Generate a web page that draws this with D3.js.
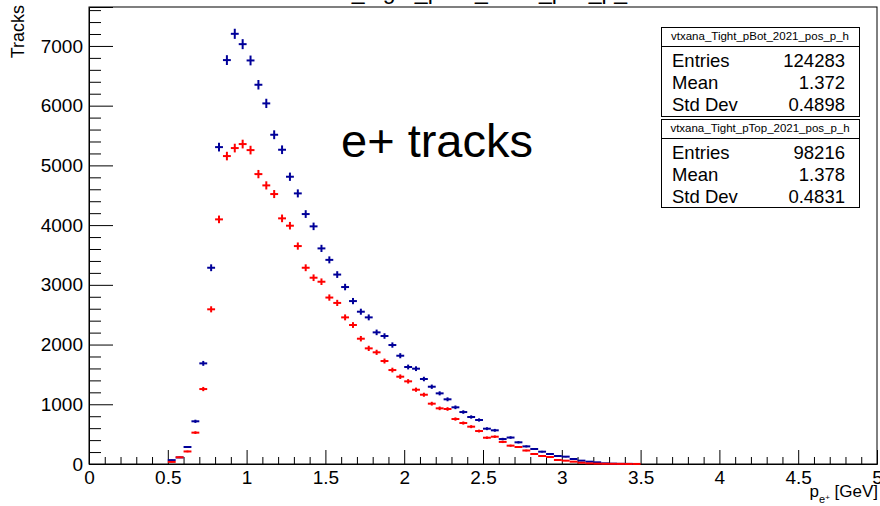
<!DOCTYPE html>
<html><head><meta charset="utf-8">
<script src="https://cdn.jsdelivr.net/npm/d3@7"></script>
<style>
body{margin:0;background:#fff;}
svg{display:block;font-family:"Liberation Sans",Arial,Helvetica,sans-serif;}
</style></head>
<body><svg id="c" width="880" height="506"></svg>
<script>
// ---- data ----
const binWidth = 0.05;
const binStart = 0.5; // low edge of the first listed bin
const botCounts = [65,110,285,715,1685,3286,5306,6763,7203,7030,6757,6350,6038,5513,5262,4810,4531,4185,3979,3610,
  3418,3172,2963,2728,2550,2455,2204,2143,1992,1813,1624,1596,1423,1294,1183,1083,949,870,787,737,
  591,564,418,443,363,295,251,206,167,134,123,84,56,39,28,11,6,3,2];
const topCounts = [35,112,210,525,1255,2590,4096,5156,5290,5357,5256,4854,4665,4520,4113,3990,3649,3286,3119,3052,
  2787,2697,2455,2327,2098,1936,1870,1724,1573,1462,1384,1244,1160,1010,932,921,753,686,625,552,
  440,457,370,307,285,226,167,134,117,67,56,39,22,11,6,4,3,2,1,1];
const xMajorTicks = [0,0.5,1,1.5,2,2.5,3,3.5,4,4.5,5];
const yMajorTicks = [0,1000,2000,3000,4000,5000,6000,7000];
const statNames = ["vtxana_Tight_pBot_2021_pos_p_h","vtxana_Tight_pTop_2021_pos_p_h"];
const statLabels = ["Entries","Mean","Std Dev"];
const statBot = ["124283","1.372","0.4898"];
const statTop = ["98216","1.378","0.4831"];
const titleText = "vtxana_Tight_pBot_2021_pos_p_h";
const noteText = "e+ tracks";
const colors = {bot:"#000099", top:"#ff0000"};

// ---- layout ----
const svg = d3.select("#c");
const L=89, R=877, T=7, B=464;
const x = d3.scaleLinear().domain([0,5]).range([L,R]);
const y = d3.scaleLinear().domain([0,7652]).range([B,T]);

// title (mostly cut off at top)
svg.append("text").attr("x",284).attr("y",-1).attr("font-size",23).attr("fill","#000").text(titleText);

// frame
svg.append("rect").attr("x",L).attr("y",T).attr("width",R-L).attr("height",B-T)
  .attr("fill","none").attr("stroke","#000").attr("stroke-width",1);

// x axis minor ticks
const xMinor = d3.range(0,51).map(i=>i/10).filter(v=>Math.abs(v*2-Math.round(v*2))>1e-6);
svg.append("g").attr("transform",`translate(0,${B})`)
  .call(d3.axisBottom(x).tickValues(xMinor).tickSize(-7).tickFormat(""))
  .call(g=>g.select(".domain").remove());
svg.append("g").attr("transform",`translate(0,${B})`)
  .call(d3.axisBottom(x).tickValues(xMajorTicks).tickSize(-14).tickPadding(6.5).tickFormat(d=>d3.format("~g")(d)))
  .call(g=>g.select(".domain").attr("stroke","#000"))
  .call(g=>g.selectAll("text").attr("font-size",19).attr("font-family","Liberation Sans, Arial, sans-serif").attr("fill","#000"));

// y axis
const yMinor = d3.range(0,7601,200).filter(v=>v%1000!==0);
svg.append("g").attr("transform",`translate(${L},0)`)
  .call(d3.axisLeft(y).tickValues(yMinor).tickSize(-12).tickFormat(""))
  .call(g=>g.select(".domain").remove());
svg.append("g").attr("transform",`translate(${L},0)`)
  .call(d3.axisLeft(y).tickValues(yMajorTicks).tickSize(-24).tickPadding(6).tickFormat(d3.format("d")))
  .call(g=>g.select(".domain").attr("stroke","#000"))
  .call(g=>g.selectAll("text").attr("font-size",19).attr("font-family","Liberation Sans, Arial, sans-serif").attr("fill","#000"));

// axis titles
const xt = svg.append("text").attr("x",878).attr("y",497).attr("text-anchor","end").attr("font-size",17);
xt.append("tspan").text("p");
xt.append("tspan").attr("font-size",11).attr("dy",6).text("e");
xt.append("tspan").attr("font-size",8).attr("dy",-3).text("+");
xt.append("tspan").attr("dy",-3).text(" [GeV]");
svg.append("text").attr("transform","translate(24,5) rotate(-90)").attr("text-anchor","end")
  .attr("font-size",18).text("Tracks");

// histograms with error bars
function drawHist(counts, color){
  const data = counts.map((c,i)=>({lo:binStart+i*binWidth, c}));
  const g = svg.append("g").attr("stroke",color).attr("stroke-width",2).attr("fill","none");
  data.filter(d=>d.c>0).forEach(d=>{
    g.append("line").attr("x1",x(d.lo)).attr("x2",x(d.lo+binWidth))
      .attr("y1",y(d.c)).attr("y2",y(d.c));
    const e=Math.sqrt(d.c), xc=x(d.lo+binWidth/2);
    g.append("line").attr("x1",xc).attr("x2",xc).attr("y1",y(d.c-e)).attr("y2",y(d.c+e));
  });
}
drawHist(botCounts, colors.bot);
drawHist(topCounts, colors.top);

// note text
svg.append("text").attr("x",341).attr("y",157).attr("font-size",47).text(noteText);

// stat boxes
function statBox(top, hdrH, h, name, vals, rowBase, rowStep){
  const bl=661, bw=198;
  const g = svg.append("g");
  g.append("rect").attr("x",bl+0.5).attr("y",top+0.5).attr("width",bw).attr("height",h)
    .attr("fill","#fff").attr("stroke","#000").attr("stroke-width",1);
  g.append("line").attr("x1",bl).attr("x2",bl+bw).attr("y1",top+hdrH+0.5).attr("y2",top+hdrH+0.5).attr("stroke","#000");
  g.append("text").attr("x",bl+bw/2).attr("y",top+hdrH-6.5).attr("text-anchor","middle").attr("font-size",11.5).text(name);
  statLabels.forEach((lab,i)=>{
    g.append("text").attr("x",bl+11).attr("y",rowBase+i*rowStep).attr("font-size",18.5).text(lab);
    g.append("text").attr("x",bl+184).attr("y",rowBase+i*rowStep).attr("font-size",18.5).attr("text-anchor","end").text(vals[i]);
  });
}
statBox(27, 19, 89, statNames[0], statBot, 66.5, 22.2);
statBox(119, 19, 88, statNames[1], statTop, 158.5, 22);
</script></body></html>
